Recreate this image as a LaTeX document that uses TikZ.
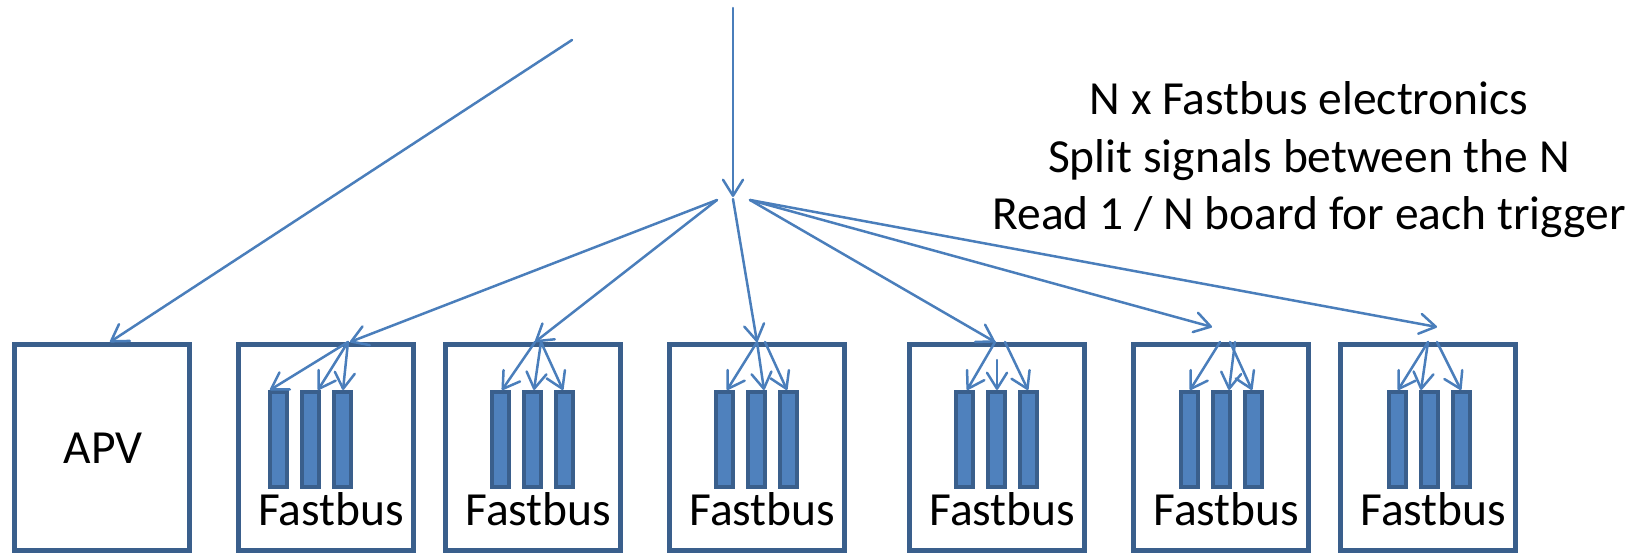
\documentclass[tikz,border=0pt]{standalone}
\usepackage{fontspec}
\setmainfont{Carlito}
\usetikzlibrary{arrows.meta}
\definecolor{wire}{HTML}{4A7EBB}
\definecolor{frame}{HTML}{3A5F8C}
\definecolor{cardfill}{HTML}{4F81BD}
\begin{document}
\begin{tikzpicture}[x=1pt, y=-1pt,
  conn/.style={draw=wire, line width=2.5pt, line cap=round,
    -{Straight Barb[length=16pt, width=20pt, line cap=round, line join=round]}},
  crate/.style={draw=frame, line width=5pt, rectangle, inner sep=0pt, outer sep=2.5pt,
    minimum width=175pt, minimum height=205.5pt, anchor=north west},
  card/.style={draw=frame, fill=cardfill, line width=4pt, rectangle, inner sep=0pt,
    outer sep=2pt, minimum width=17pt, minimum height=95pt, anchor=north west},
  lbl/.style={font=\fontsize{47.5}{57}\selectfont, text=black, inner sep=0pt, anchor=base}]
\useasboundingbox (0,0) rectangle (1646,553);

% crates
\node[crate] (apv) at (12,342) {};
\node[crate] (b1) at (235.5,342) {};
\node[crate] (b2) at (443,342) {};
\node[crate] (b3) at (667,342) {};
\node[crate] (b4) at (907,342) {};
\node[crate] (b5) at (1131,342) {};
\node[crate] (b6) at (1338,342) {};

% boards inside each Fastbus crate
\foreach \n/\x in {1/268, 2/490, 3/714, 4/954, 5/1179, 6/1387} {
  \node[card] (c\n a) at (\x,390) {};
  \node[card] (c\n b) at (\x+32,390) {};
  \node[card] (c\n c) at (\x+64,390) {};
}

% labels
\node[lbl] (apvt) at (103,463) {APV};
\foreach \n/\x in {1/331, 2/538.5, 3/762.5, 4/1002.5, 5/1226.5, 6/1433.5}
  \node[lbl] (f\n) at (\x,525.5) {Fastbus};
\node[lbl] (note1) at (1309,115) {N x Fastbus electronics};
\node[lbl] (note2) at (1309,172.5) {Split signals between the N};
\node[lbl] (note3) at (1309,230) {Read 1 / N board for each trigger};

% incoming signal and fan-out points
\coordinate (src) at (733,8);
\coordinate (split) at (733,197);
\coordinate (fanL) at (717,200);
\coordinate (fanM) at (733,199);
\coordinate (fanR) at (750,200);
\coordinate (apvsrc) at (572,40);
\coordinate (t5) at (1212,327);
\coordinate (t6) at (1437,327);
\coordinate (m4) at (997,360);

\draw[conn] (src) -- (split);
\draw[conn] (apvsrc) -- ([xshift=98pt]apv.north west);
\draw[conn] (fanL) -- ([xshift=114.5pt]b1.north west);
\draw[conn] (fanL) -- ([xshift=92pt]b2.north west);
\draw[conn] (fanM) -- ([xshift=90pt]b3.north west);
\draw[conn] (fanR) -- ([xshift=88pt]b4.north west);
\draw[conn] (fanR) -- (t5);
\draw[conn] (fanR) -- (t6);

% distribution inside the crates
\draw[conn] ([xshift=112.5pt]b1.north west) -- ([xshift=2pt]c1a.north west);
\draw[conn] ([xshift=112.5pt]b1.north west) -- ([xshift=18pt]c1b.north west);
\draw[conn] ([xshift=112.5pt]b1.north west) -- ([xshift=11pt]c1c.north west);

\draw[conn] ([xshift=92pt]b2.north west) -- ([xshift=12pt]c2a.north west);
\draw[conn] ([xshift=98pt]b2.north west) -- ([xshift=12pt]c2b.north west);
\draw[conn] ([xshift=98pt]b2.north west) -- ([xshift=9pt]c2c.north west);

\draw[conn] ([xshift=90pt]b3.north west) -- ([xshift=13pt]c3a.north west);
\draw[conn] ([xshift=90pt]b3.north west) -- ([xshift=18pt]c3b.north west);
\draw[conn] ([xshift=98pt]b3.north west) -- ([xshift=9pt]c3c.north west);

\draw[conn] ([xshift=88pt]b4.north west) -- ([xshift=13pt]c4a.north west);
\draw[conn] (m4) -- ([xshift=11pt]c4b.north west);
\draw[conn] ([xshift=98pt]b4.north west) -- ([xshift=10pt]c4c.north west);

\draw[conn] ([xshift=89pt]b5.north west) -- ([xshift=11pt]c5a.north west);
\draw[conn] ([xshift=104pt]b5.north west) -- ([xshift=18pt]c5b.north west);
\draw[conn] ([xshift=99pt]b5.north west) -- ([xshift=9pt]c5c.north west);

\draw[conn] ([xshift=90pt]b6.north west) -- ([xshift=11pt]c6a.north west);
\draw[conn] ([xshift=90pt]b6.north west) -- ([xshift=2pt]c6b.north west);
\draw[conn] ([xshift=99pt]b6.north west) -- ([xshift=10pt]c6c.north west);
\end{tikzpicture}
\end{document}
